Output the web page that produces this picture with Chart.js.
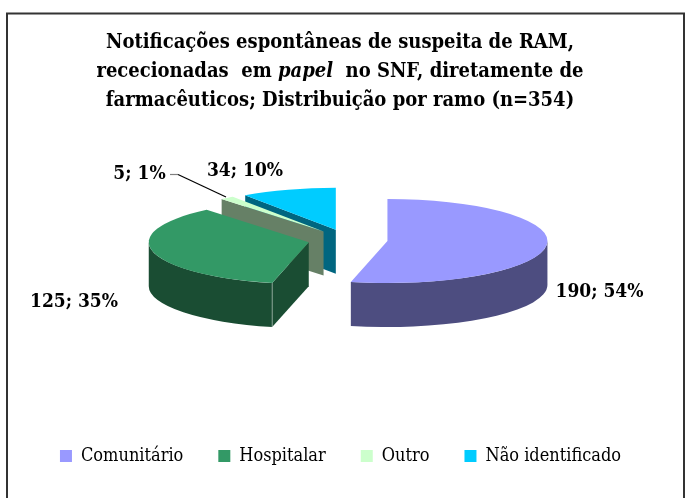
<!DOCTYPE html>
<html lang="pt"><head><meta charset="utf-8">
<script src="https://cdn.jsdelivr.net/npm/chart.js@4"></script>
<style>html,body{margin:0;padding:0;background:#fff}#w{position:relative;width:691px;height:498px}</style>
</head><body><div id="w"><canvas id="c" width="691" height="498"></canvas></div>
<script>
const categories = ['Comunitário', 'Hospitalar', 'Outro', 'Não identificado'];
const values = [190, 125, 5, 34];
const percents = [54, 35, 1, 10];
const topColors = ['#9999FF', '#339966', '#CCFFCC', '#00CCFF'];
const wallColors = ['#4D4D80', '#1A4D33', '#668066', '#006680'];
const titleLines = [
  [['Notificações espontâneas de suspeita de RAM,', false]],
  [['rececionadas  em ', false], ['papel', true], ['  no SNF, diretamente de', false]],
  [['farmacêuticos; Distribuição por ramo (n=354)', false]]
];
const FAMILY = '"DejaVu Serif Condensed","DejaVu Serif",serif';
const P = {cx: 347.7, cy: 239.8, k: 0.2625, explode: 40, depth: 44};

function place(a) {
  const mid = (a.startAngle + a.endAngle) / 2;
  return {x: P.cx + P.explode * Math.cos(mid), y: P.cy + P.k * P.explode * Math.sin(mid)};
}
function wallPath(ctx, c, a) {
  const r = a.outerRadius, k = P.k, d = P.depth;
  const pt = t => [c.x + r * Math.cos(t), c.y + k * r * Math.sin(t)];
  const face = t => {
    const q = pt(t);
    ctx.beginPath();
    ctx.moveTo(c.x, c.y); ctx.lineTo(q[0], q[1]); ctx.lineTo(q[0], q[1] + d); ctx.lineTo(c.x, c.y + d);
    ctx.closePath(); ctx.fill();
  };
  // a radial face is visible when its outward normal points towards the viewer
  if (Math.sin(a.startAngle - Math.PI/2) > 0) face(a.startAngle);
  if (Math.sin(a.endAngle + Math.PI/2) > 0) face(a.endAngle);
  // outer rim: the part of the slice lying on the lower half of the ellipse
  for (const off of [0, 2*Math.PI, -2*Math.PI]) {
    const s = Math.max(a.startAngle + off, 0), e = Math.min(a.endAngle + off, Math.PI);
    if (e > s) {
      ctx.beginPath();
      ctx.ellipse(c.x, c.y, r, k*r, 0, s, e);
      ctx.ellipse(c.x, c.y + d, r, k*r, 0, e, s, true);
      ctx.closePath(); ctx.fill();
    }
  }
  // thin light edge where a visible radial face meets the rim
  if (Math.sin(a.startAngle - Math.PI/2) > 0) {
    const q = pt(a.startAngle);
    ctx.save();
    ctx.strokeStyle = 'rgba(255,255,255,0.4)'; ctx.lineWidth = 1;
    ctx.beginPath(); ctx.moveTo(q[0], q[1]); ctx.lineTo(q[0], q[1] + d); ctx.stroke();
    ctx.restore();
  }
}
const pie3d = {
  id: 'pie3d',
  beforeDraw(chart) {
    const ctx = chart.ctx;
    ctx.save();
    ctx.fillStyle = '#fff'; ctx.fillRect(0, 0, 691, 498);
    ctx.strokeStyle = '#333'; ctx.lineWidth = 2;
    ctx.beginPath(); ctx.moveTo(7, 498); ctx.lineTo(7, 13.5); ctx.lineTo(684, 13.5); ctx.lineTo(684, 498); ctx.stroke();
    // title
    ctx.fillStyle = '#000'; ctx.textBaseline = 'middle';
    titleLines.forEach((line, i) => {
      const font = it => (it ? 'italic ' : '') + 'bold 20px ' + FAMILY;
      let w = 0;
      line.forEach(([t, it]) => { ctx.font = font(it); w += ctx.measureText(t).width; });
      let x = 340 - w / 2;
      line.forEach(([t, it]) => { ctx.font = font(it); ctx.textAlign = 'left'; ctx.fillText(t, x, 43 + i * 29); x += ctx.measureText(t).width; });
    });
    ctx.restore();
  },
  beforeDatasetDraw(chart, args) {
    const ctx = chart.ctx, arcs = args.meta.data;
    [3, 2, 1, 0].forEach(i => {
      const a = arcs[i], c = place(a);
      ctx.save();
      ctx.fillStyle = wallColors[i];
      wallPath(ctx, c, a);
      ctx.translate(c.x, c.y); ctx.scale(1, P.k); ctx.translate(-a.x, -a.y);
      a.draw(ctx);
      ctx.restore();
    });
    return false;
  },
  afterDatasetsDraw(chart) {
    const ctx = chart.ctx;
    ctx.save();
    ctx.lineWidth = 1.2;
    ctx.strokeStyle = '#808080'; ctx.beginPath(); ctx.moveTo(170, 174.5); ctx.lineTo(178, 174.5); ctx.stroke();
    ctx.strokeStyle = '#000'; ctx.beginPath(); ctx.moveTo(178, 174.5); ctx.lineTo(226, 197); ctx.stroke();
    ctx.fillStyle = '#000'; ctx.font = 'bold 19px ' + FAMILY; ctx.textBaseline = 'middle'; ctx.textAlign = 'center';
    const lab = [[599.5, 292], [74, 302], [139.5, 174], [245, 171]];
    values.forEach((v, i) => ctx.fillText(v + '; ' + percents[i] + '%', lab[i][0], lab[i][1]));
    ctx.restore();
  }
};
new Chart(document.getElementById('c'), {
  type: 'pie',
  data: {labels: categories, datasets: [{data: values, backgroundColor: topColors, borderWidth: 0, radius: 160}]},
  options: {
    responsive: false, animation: false, events: [],
    layout: {padding: {right: 10, bottom: 23}},
    plugins: {
      title: {display: false}, tooltip: {enabled: false},
      legend: {position: 'bottom', labels: {boxWidth: 12, boxHeight: 12, padding: 35, color: '#000',
        font: {family: FAMILY, size: 18}}}
    }
  },
  plugins: [pie3d]
});
</script></body></html>
